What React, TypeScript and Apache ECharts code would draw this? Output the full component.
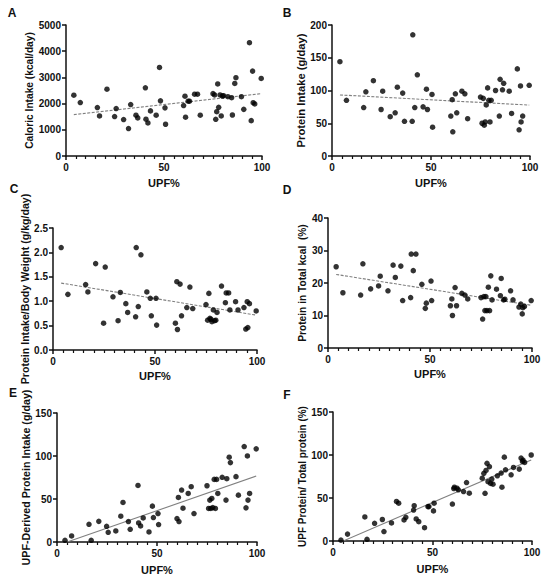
import React, { useEffect, useRef } from "react";
import * as echarts from "echarts";

// Shared x: ultra-processed food share of energy (%)
const upf = [4.0, 7.3, 16.0, 17.1, 20.9, 24.8, 25.6, 29.4, 31.9, 33.0, 35.7, 36.6, 40.5, 40.8, 41.8, 43.1, 46.0, 47.7, 48.2, 50.5, 50.8, 60.0, 60.7, 61.0, 62.3, 63.0, 65.6, 67.1, 68.5, 75.0, 75.8, 76.4, 76.9, 77.4, 77.9, 78.6, 79.2, 79.8, 80.4, 82.6, 84.5, 84.9, 86.1, 86.7, 89.5, 90.7, 93.6, 94.5, 95.2, 95.5, 96.3, 99.6];

// A: Caloric intake (kcal/day)
const caloricIntake = [2320, 2040, 1850, 1530, 2550, 1505, 1810, 1390, 1046, 1964, 1556, 1454, 2602, 1403, 1263, 1722, 1556, 3380, 2105, 1837, 1212, 1926, 2283, 1480, 2092, 2092, 2360, 2360, 1556, 2380, 2330, 1400, 1690, 2750, 1860, 2330, 1527, 2290, 2300, 2265, 2225, 1565, 2770, 2990, 2265, 1780, 4325, 1350, 3240, 2035, 1985, 2960];

// B: Protein intake (g/day)
const proteinIntake = [144, 85, 74, 98, 115, 71, 99, 60, 66, 105, 96, 53, 53, 185, 74, 124, 75, 102, 71, 94, 44, 61, 86, 37, 95, 66, 99, 95, 57, 90, 50, 88, 47, 52, 78, 104, 85, 52, 85, 100, 61, 117, 101, 111, 99, 65, 133, 40, 107, 52, 61, 108];

// C: Protein intake / body weight (g/kg/day)
const proteinPerKg = [2.10, 1.14, 1.34, 1.19, 1.77, 0.55, 1.70, 1.09, 0.60, 1.18, 0.95, 0.77, 0.68, 2.10, 0.89, 1.95, 1.19, 1.06, 0.70, 1.06, 0.51, 0.55, 1.40, 0.42, 1.35, 0.70, 0.87, 1.29, 0.85, 0.93, 0.61, 1.16, 0.65, 0.63, 0.58, 0.82, 0.60, 0.61, 0.77, 1.31, 0.97, 1.17, 1.17, 0.82, 0.99, 0.82, 0.87, 0.43, 0.99, 0.46, 0.95, 0.80];

// D: Protein in total kcal (%)
const proteinPctKcal = [25.0, 17.0, 16.3, 25.9, 18.2, 19.1, 22.1, 17.6, 25.5, 21.7, 25.2, 14.6, 15.5, 28.9, 23.8, 28.9, 19.6, 12.2, 13.8, 20.6, 14.6, 13.0, 15.1, 10.0, 18.6, 13.0, 16.8, 16.3, 15.1, 15.5, 8.9, 15.8, 11.5, 15.8, 11.5, 18.7, 11.5, 22.2, 14.8, 18.1, 16.1, 21.4, 14.8, 15.0, 17.6, 14.8, 12.6, 13.5, 10.5, 12.4, 12.8, 14.6];

// E: UPF-derived protein intake (g/day)
const upfProtein = [2, 7, 20.6, 2, 24, 18.3, 11.3, 12.9, 30, 46, 23.8, 14.8, 65.8, 22.2, 18.7, 28, 11.7, 41.7, 28.4, 33.1, 20.3, 27.3, 51.8, 23.8, 60.4, 39.3, 56.5, 64.3, 33.1, 65.4, 39, 48.7, 39, 50.6, 40, 72.8, 39, 72.8, 56.5, 75.2, 48.7, 73.6, 98.6, 92.3, 76, 54.5, 111, 39.7, 100.1, 48.7, 56.5, 108.3];

// F: UPF protein / total protein (%)
const upfProteinShare = [1, 8, 28, 2, 20.6, 25, 11, 21, 46, 44, 24.5, 27.6, 36, 41, 25.6, 22.5, 15.5, 40, 40, 35, 44, 43, 61, 62.6, 61.4, 59.5, 57.5, 68, 55.6, 73, 78.7, 55.5, 82, 90.3, 69, 86.4, 67, 72, 66, 75.8, 79, 62.6, 97.5, 82.8, 77, 85.5, 83.6, 96.4, 92.5, 94, 91.3, 100];

const panelLetters = ["A", "B", "C", "D", "E", "F"];
const yNames = [
  "Caloric Intake (kcal/day)",
  "Protein Intake (g/day)",
  "Protein Intake/Body Weight (g/kg/day)",
  "Protein in Total kcal  (%)",
  "UPF-Derived Protein Intake (g/day)",
  "UPF Protein/ Total protein (%)",
];
const yMax = [5000, 200, 2.5, 40, 150, 150];
const yStep = [1000, 50, 0.5, 10, 50, 50];
const xTicks = { min: 0, max: 100, step: 50 };

const seriesY = [caloricIntake, proteinIntake, proteinPerKg, proteinPctKcal, upfProtein, upfProteinShare];

const FONT = "'Liberation Sans', Arial, Helvetica, sans-serif";
const INK = "#111111";

function linFit(xs: number[], ys: number[]) {
  const n = xs.length;
  let sx = 0, sy = 0, sxx = 0, sxy = 0;
  for (let i = 0; i < n; i++) {
    sx += xs[i]; sy += ys[i]; sxx += xs[i] * xs[i]; sxy += xs[i] * ys[i];
  }
  const b = (n * sxy - sx * sy) / (n * sxx - sx * sx);
  const a = (sy - b * sx) / n;
  const x0 = Math.min(...xs), x1 = Math.max(...xs);
  return [[x0, a + b * x0], [x1, a + b * x1]];
}

export default function App() {
  const ref = useRef<HTMLDivElement>(null);
  useEffect(() => {
    document.body.style.margin = "0";
    if (!ref.current) return;
    const chart = echarts.init(ref.current, undefined, { renderer: "svg" });

    const grids = [
      { left: 66, top: 25, width: 196, height: 131 },
      { left: 332, top: 25, width: 198, height: 131 },
      { left: 53, top: 228, width: 204, height: 122 },
      { left: 328, top: 218, width: 204, height: 130 },
      { left: 57, top: 413, width: 200, height: 129 },
      { left: 333, top: 412, width: 199, height: 129 },
    ];
    const yNameGap = [32, 26, 20, 20, 22, 24];
    const yNameSize = [10.2, 11.2, 10.6, 10.2, 10.7, 10.0];
    const xNameGap = [21, 21, 20, 20, 22, 22];
    const letterPos = [[12, 13], [287, 13], [14, 189], [287, 190], [13, 393], [287, 395]];

    const axisCommon = {
      axisLine: { show: true, lineStyle: { color: INK, width: 1.5 } },
      axisTick: { show: true, length: 4, lineStyle: { color: INK, width: 1.5 } },
      splitLine: { show: false },
      axisLabel: { color: INK, fontSize: 10, fontWeight: "bold", fontFamily: FONT },
      nameLocation: "middle",
    };

    const xAxis = grids.map((_, i) => ({
      ...axisCommon,
      gridIndex: i,
      type: "value",
      min: xTicks.min,
      max: xTicks.max,
      interval: xTicks.step,
      name: "UPF%",
      nameGap: xNameGap[i],
      nameTextStyle: { color: INK, fontSize: 11, fontWeight: "bold", fontFamily: FONT },
      minorTick: { show: true, splitNumber: 10, length: 3, lineStyle: { color: INK, width: 1.2 } },
      axisLabel: { ...axisCommon.axisLabel, margin: 6 },
    }));

    const yAxis = grids.map((_, i) => ({
      ...axisCommon,
      gridIndex: i,
      type: "value",
      min: 0,
      max: yMax[i],
      interval: yStep[i],
      name: yNames[i],
      nameGap: yNameGap[i],
      nameTextStyle: { color: INK, fontSize: yNameSize[i], fontWeight: "bold", fontFamily: FONT },
      axisLabel: {
        ...axisCommon.axisLabel,
        margin: 5,
        formatter: i === 2 ? (v: number) => v.toFixed(1) : (v: number) => String(v),
      },
    }));

    const series: any[] = [];
    seriesY.forEach((ys, i) => {
      series.push({
        type: "line",
        xAxisIndex: i,
        yAxisIndex: i,
        data: linFit(upf, ys),
        showSymbol: false,
        symbol: "none",
        clip: true,
        lineStyle: { color: "#808080", width: 1.1, type: i < 4 ? [3, 1.5] : "solid" },
        z: 1,
        silent: true,
      });
      series.push({
        type: "scatter",
        xAxisIndex: i,
        yAxisIndex: i,
        data: upf.map((x, k) => [x, ys[k]]),
        symbol: "circle",
        symbolSize: 5.5,
        itemStyle: { color: "#000000" },
        z: 2,
      });
    });

    const graphic = panelLetters.map((t, i) => ({
      type: "text",
      x: letterPos[i][0],
      y: letterPos[i][1],
      style: {
        text: t,
        fill: INK,
        font: `bold 12px ${FONT}`,
        textAlign: "center",
        textVerticalAlign: "middle",
      },
    }));

    chart.setOption({
      animation: false,
      backgroundColor: "#ffffff",
      grid: grids,
      xAxis,
      yAxis,
      series,
      graphic,
    });
    return () => chart.dispose();
  }, []);
  return <div ref={ref} style={{ width: 550, height: 580 }} />;
}
